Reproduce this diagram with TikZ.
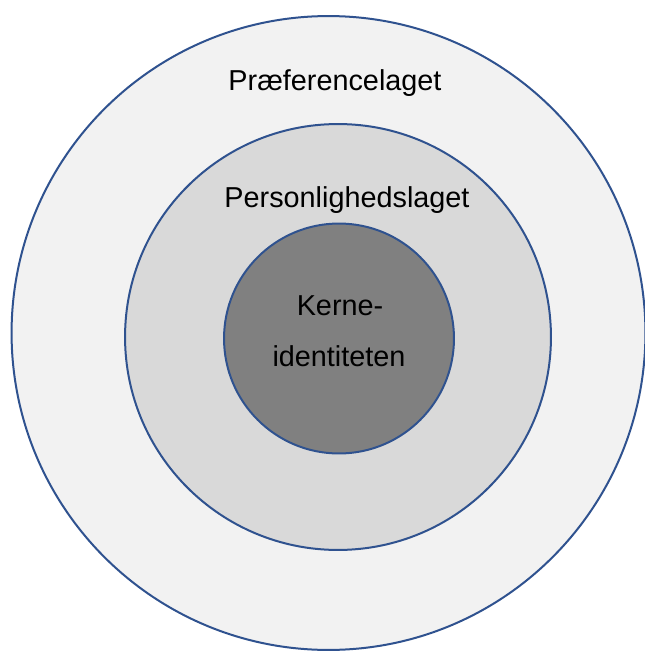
\documentclass[tikz,border=0pt]{standalone}
\usepackage{fontspec}
\setmainfont{Liberation Sans}
\usepackage{xcolor}
\definecolor{ringblue}{HTML}{2F528F}
\definecolor{prefgray}{HTML}{F2F2F2}
\definecolor{persgray}{HTML}{D9D9D9}
\definecolor{coregray}{HTML}{808080}

\begin{document}
\begin{tikzpicture}[x=0.02cm, y=-0.02cm,
    layer/.style={circle, draw=ringblue, line width=0.04cm, inner sep=0pt},
    lbl/.style={anchor=base, inner sep=0pt, font=\fontsize{16.4}{20}\selectfont}]
    \useasboundingbox (0,0) rectangle (645,652);

    \coordinate (PrefC) at (328.5,333);
    \coordinate (PersC) at (338,337);
    \coordinate (CoreC) at (339,338.5);

    \node[layer, fill=prefgray, minimum size=12.68cm] (Pref) at (PrefC) {};
    \node[layer, fill=persgray, minimum size=8.52cm] (Pers) at (PersC) {};
    \node[layer, fill=coregray, minimum size=4.6cm] (Core) at (CoreC) {};

    \node[lbl] (PrefLbl) at (335,91) {Præferencelaget};
    \node[lbl] (PersLbl) at (347,207) {Personlighedslaget};
    \node[lbl] (CoreLblA) at (340,315) {Kerne-};
    \node[lbl] (CoreLblB) at (339,366) {identiteten};
\end{tikzpicture}
\end{document}
